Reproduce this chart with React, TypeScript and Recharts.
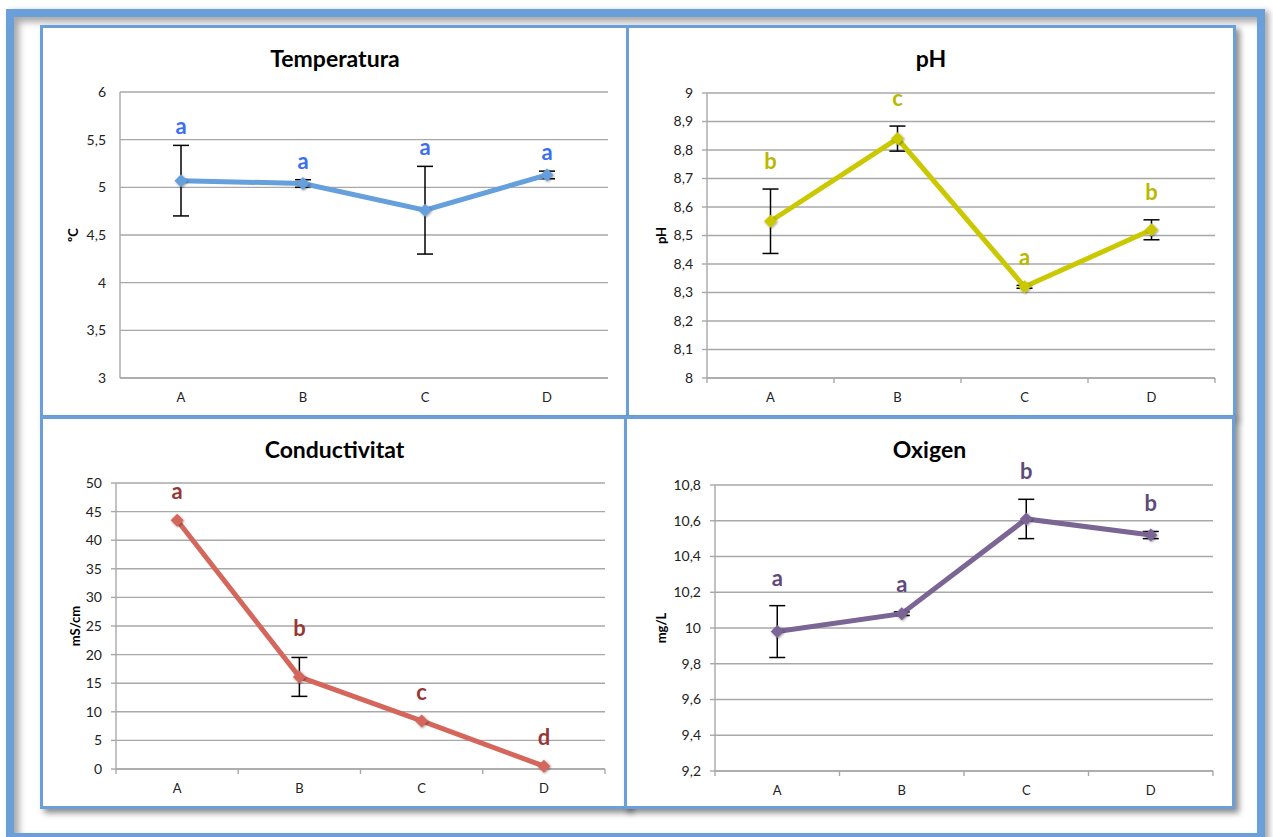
import React from 'react';
import { LineChart, Line, XAxis, YAxis, CartesianGrid, ErrorBar, LabelList } from 'recharts';

const sites = ['A', 'B', 'C', 'D'];

const tempValues = [5.07, 5.04, 4.76, 5.13];
const tempErrors = [0.37, 0.04, 0.46, 0.04];
const tempLetters = ['a', 'a', 'a', 'a'];
const tempTicks = [3, 3.5, 4, 4.5, 5, 5.5, 6];

const phValues = [8.55, 8.84, 8.32, 8.52];
const phErrors = [0.113, 0.044, 0.005, 0.035];
const phLetters = ['b', 'c', 'a', 'b'];
const phTicks = [8, 8.1, 8.2, 8.3, 8.4, 8.5, 8.6, 8.7, 8.8, 8.9, 9];

const condValues = [43.5, 16.1, 8.4, 0.5];
const condErrors = [0, 3.4, 0, 0];
const condLetters = ['a', 'b', 'c', 'd'];
const condTicks = [0, 5, 10, 15, 20, 25, 30, 35, 40, 45, 50];

const oxyValues = [9.98, 10.08, 10.61, 10.52];
const oxyErrors = [0.145, 0.01, 0.11, 0.02];
const oxyLetters = ['a', 'a', 'b', 'b'];
const oxyTicks = [9.2, 9.4, 9.6, 9.8, 10, 10.2, 10.4, 10.6, 10.8];

const BLUE = '#6a9fd9';
const GRID = '#a8a8a8';
const FONT = 'Lato, "Open Sans", sans-serif';

const comma = (v: number) => String(v).replace('.', ',');

type Box = { left: number; top: number; width: number; height: number };
type Plot = { left: number; top: number; right: number; bottom: number };

interface PanelProps {
    box: Box;
    plot: Plot;
    title: string;
    yLabel: string;
    yLabelX: number;
    values: number[];
    errors: number[];
    letters: string[];
    ticks: number[];
    color: string;
    letterColor: string;
    axisTicks: boolean;
    lift: number;
}

const Diamond = (props: any) => {
    const { cx, cy, color } = props;
    if (cx == null || cy == null) return null;
    const r = 6.5;
    return (
        <polygon
            points={`${cx},${cy - r} ${cx + r},${cy} ${cx},${cy + r} ${cx - r},${cy}`}
            fill={color}
            filter="url(#mk)"
        />
    );
};

const Panel: React.FC<PanelProps> = (p) => {
    const b = 3;
    const inL = p.box.left + b;
    const inT = p.box.top + b;
    const w = p.box.width - 2 * b;
    const h = p.box.height - 2 * b;
    const yW = p.plot.left - inL;
    const xH = 30;
    const margin = {
        top: p.plot.top - inT,
        right: inL + w - p.plot.right,
        left: 0,
        bottom: inT + h - p.plot.bottom - xH,
    };
    const band = (p.plot.right - p.plot.left) / sites.length;
    const data = sites.map((s, i) => ({ site: s, v: p.values[i], e: p.errors[i], letter: p.letters[i] }));
    const axisY = p.plot.bottom - inT;
    const labelY = p.plot.top - inT + (p.plot.bottom - p.plot.top) / 2;
    const labelX = p.yLabelX - inL;

    // category label, plus (optionally) tick marks at the band edges
    const CatTick = (tp: any) => {
        const { x, y, payload, index } = tp;
        const last = index === sites.length - 1;
        return (
            <g>
                {p.axisTicks && (
                    <line x1={x - band / 2} x2={x - band / 2} y1={axisY} y2={axisY + 5} stroke={GRID} strokeWidth={1.4} />
                )}
                {p.axisTicks && last && (
                    <line x1={x + band / 2} x2={x + band / 2} y1={axisY} y2={axisY + 5} stroke={GRID} strokeWidth={1.4} />
                )}
                <text x={x} y={y} dy="0.71em" textAnchor="middle" fill="#222" fontSize={13}>
                    {payload.value}
                </text>
            </g>
        );
    };

    return (
        <div
            style={{
                position: 'absolute',
                left: p.box.left,
                top: p.box.top,
                width: p.box.width,
                height: p.box.height,
                boxSizing: 'border-box',
                border: `${b}px solid ${BLUE}`,
                background: '#fff',
                boxShadow: '4px 4px 6px rgba(0,0,0,0.45)',
            }}
        >
            <div
                style={{
                    position: 'absolute',
                    top: 30 - 14,
                    left: 0,
                    width: '100%',
                    textAlign: 'center',
                    fontSize: 23,
                    lineHeight: '28px',
                    fontWeight: 'bold',
                    color: '#000',
                }}
            >
                {p.title}
            </div>
            <div style={{ position: 'absolute', left: 0, top: 0 }}>
                <LineChart width={w} height={h} data={data} margin={margin}>
                    <CartesianGrid horizontal vertical={false} stroke={GRID} strokeWidth={1.4} />
                    <XAxis
                        dataKey="site"
                        height={xH}
                        padding={{ left: band / 2, right: band / 2 }}
                        axisLine={{ stroke: GRID, strokeWidth: 1.4 }}
                        tickLine={false}
                        tickSize={0}
                        tickMargin={15}
                        tick={<CatTick />}
                        interval={0}
                    />
                    <YAxis
                        type="number"
                        width={yW}
                        domain={[p.ticks[0], p.ticks[p.ticks.length - 1]]}
                        ticks={p.ticks}
                        interval={0}
                        tickFormatter={comma}
                        axisLine={{ stroke: GRID, strokeWidth: 1.4 }}
                        tickLine={p.axisTicks ? { stroke: GRID, strokeWidth: 1.4 } : false}
                        tickSize={p.axisTicks ? 5 : 0}
                        tickMargin={p.axisTicks ? 9 : 14}
                        tick={{ fill: '#222', fontSize: 14 }}
                        label={{
                            content: () => (
                                <text
                                    x={labelX}
                                    y={labelY}
                                    transform={`rotate(-90, ${labelX}, ${labelY})`}
                                    textAnchor="middle"
                                    dominantBaseline="central"
                                    fontWeight="bold"
                                    fontSize={13}
                                    fill="#000"
                                >
                                    {p.yLabel}
                                </text>
                            ),
                        }}
                    />
                    <Line
                        dataKey="v"
                        stroke={p.color}
                        strokeWidth={5}
                        dot={(d: any) => <Diamond key={`d${d.index}`} cx={d.cx} cy={d.cy} color={p.color} />}
                        activeDot={false}
                        isAnimationActive={false}
                    >
                        <ErrorBar dataKey="e" width={8} stroke="#000" strokeWidth={1.5} direction="y" />
                    </Line>
                    <Line
                        dataKey={(d: any) => d.v + d.e}
                        stroke="none"
                        dot={false}
                        activeDot={false}
                        isAnimationActive={false}
                    >
                        <LabelList
                            dataKey="letter"
                            content={(lp: any) => (
                                <text
                                    x={lp.x}
                                    y={lp.y - p.lift}
                                    textAnchor="middle"
                                    fontWeight="bold"
                                    fontSize={22}
                                    fill={p.letterColor}
                                >
                                    {lp.value}
                                </text>
                            )}
                        />
                    </Line>
                </LineChart>
            </div>
        </div>
    );
};

export default function App() {
    return (
        <div
            style={{
                position: 'absolute',
                left: 0,
                top: 0,
                width: 1273,
                height: 837,
                overflow: 'hidden',
                background: '#fff',
                fontFamily: FONT,
            }}
        >
            <svg width={0} height={0} style={{ position: 'absolute' }}>
                <defs>
                    <filter id="mk" x="-60%" y="-60%" width="220%" height="220%">
                        <feDropShadow dx="0.8" dy="0.8" stdDeviation="1.3" floodColor="#000" floodOpacity="0.45" />
                    </filter>
                </defs>
            </svg>
            <div
                style={{
                    position: 'absolute',
                    left: 6,
                    top: 9,
                    width: 1259,
                    height: 832,
                    boxSizing: 'border-box',
                    border: `8px solid ${BLUE}`,
                    boxShadow: 'inset 5px 5px 7px rgba(0,0,0,0.35), 4px 2px 6px rgba(0,0,0,0.35)',
                }}
            />
            <Panel
                box={{ left: 40, top: 25, width: 590, height: 393 }}
                plot={{ left: 120, top: 92, right: 608, bottom: 378 }}
                title="Temperatura"
                yLabel="ºC"
                yLabelX={73}
                values={tempValues}
                errors={tempErrors}
                letters={tempLetters}
                ticks={tempTicks}
                color="#659fdc"
                letterColor="#3a6ff0"
                axisTicks={false}
                lift={11}
            />
            <Panel
                box={{ left: 626, top: 25, width: 610, height: 393 }}
                plot={{ left: 707, top: 93, right: 1215, bottom: 378 }}
                title="pH"
                yLabel="pH"
                yLabelX={661}
                values={phValues}
                errors={phErrors}
                letters={phLetters}
                ticks={phTicks}
                color="#cac800"
                letterColor="#b9b800"
                axisTicks
                lift={20}
            />
            <Panel
                box={{ left: 40, top: 416, width: 589, height: 393 }}
                plot={{ left: 116, top: 483, right: 605, bottom: 769 }}
                title="Conductivitat"
                yLabel="mS/cm"
                yLabelX={75}
                values={condValues}
                errors={condErrors}
                letters={condLetters}
                ticks={condTicks}
                color="#d5665b"
                letterColor="#953735"
                axisTicks
                lift={21}
            />
            <Panel
                box={{ left: 624, top: 416, width: 611, height: 393 }}
                plot={{ left: 715, top: 485, right: 1213, bottom: 771 }}
                title="Oxigen"
                yLabel="mg/L"
                yLabelX={661}
                values={oxyValues}
                errors={oxyErrors}
                letters={oxyLetters}
                ticks={oxyTicks}
                color="#7a6595"
                letterColor="#604a7b"
                axisTicks
                lift={20}
            />
        </div>
    );
}
